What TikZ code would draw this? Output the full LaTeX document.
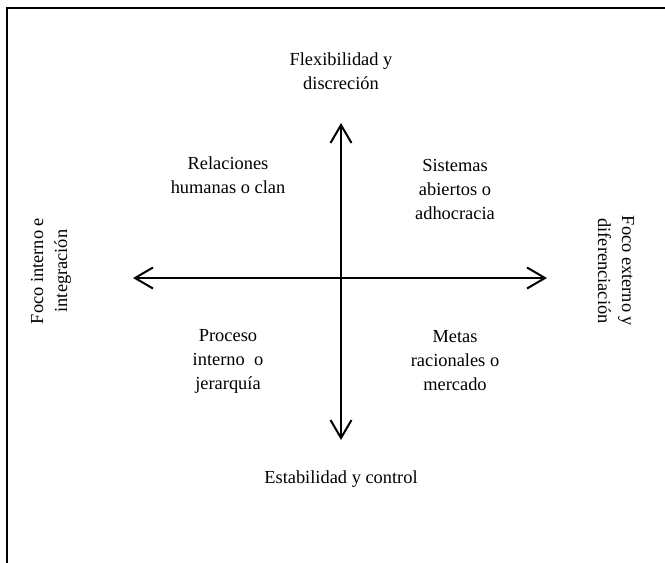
\documentclass[tikz,border=0pt]{standalone}
\usepackage{fontspec}
\setmainfont{Liberation Serif}
\usetikzlibrary{arrows.meta}
\begin{document}
\begin{tikzpicture}[x=1pt,y=-1pt,line width=2pt,
	axis/.style={{Straight Barb[length=18pt,width=21pt,line width=2pt]}-{Straight Barb[length=18pt,width=21pt,line width=2pt]}},
	label node/.style={align=center,inner sep=0pt,font=\fontsize{18.4}{24}\selectfont}]
	\useasboundingbox (0,0) rectangle (665,563);

	% frame
	\draw (7,563) -- (7,8) -- (665,8);

	\coordinate (top) at (341,123);
	\coordinate (bottom) at (341,440);
	\coordinate (left) at (133,278);
	\coordinate (right) at (547,278);

	\node[label node] (flex) at (341,71) {Flexibilidad y\\discreción};
	\node[label node] (estab) at (341,479) {Estabilidad y control};
	\node[label node,rotate=90] (interno) at (51,271) {Foco interno e\\integración};
	\node[label node,rotate=-90] (externo) at (616,271) {Foco externo y\\diferenciación};

	\node[label node] (clan) at (228,175) {Relaciones\\humanas o clan};
	\node[label node] (adhoc) at (455,189) {Sistemas\\abiertos o\\adhocracia};
	\node[label node] (jerar) at (228,361) {Proceso\\interno~ o\\jerarquía};
	\node[label node] (merc) at (455,361) {Metas\\racionales o\\mercado};

	\draw[axis] (top) -- (bottom);
	\draw[axis] (left) -- (right);
\end{tikzpicture}
\end{document}
